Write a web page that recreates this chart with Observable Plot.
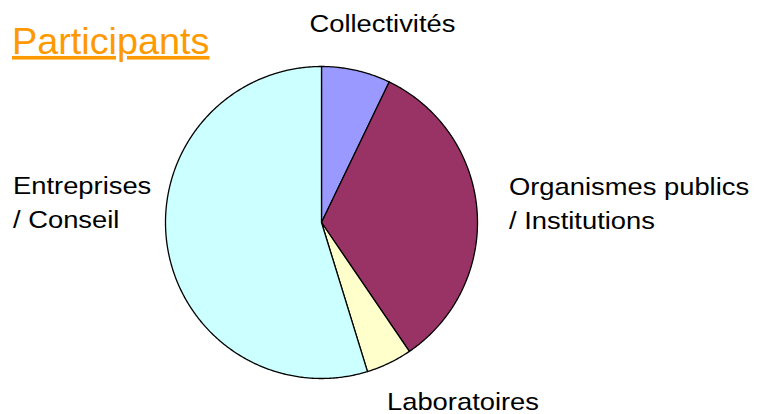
<!DOCTYPE html>
<html>
<head>
<meta charset="utf-8">
<script src="https://cdn.jsdelivr.net/npm/d3@7"></script>
<script src="https://cdn.jsdelivr.net/npm/@observablehq/plot@0.6"></script>
<style>
  html, body { margin: 0; padding: 0; background: #fff; }
  #chart svg { display: block; }
</style>
</head>
<body>
<div id="chart"></div>
<script>
// ---- data ----
const title = "Participants";
const categories = ["Collectivités", "Organismes publics\n/ Institutions", "Laboratoires", "Entreprises\n/ Conseil"];
const values = [3, 14, 2, 23];
const sliceColors = ["#9999FF", "#993366", "#FFFFCC", "#CCFFFF"];

// ---- layout ----
const W = 763, H = 414;
const cx = 321, cy = 222, R = 156;
const labelPos = [
  {x: 309, y: 31},
  {x: 508.5, y: 228},
  {x: 386.5, y: 409},
  {x: 12.5, y: 227.5}
];

const arcs = d3.pie().sort(null).value(d => d)(values);
const piePts = [];
arcs.forEach((a, i) => {
  const cat = categories[i];
  piePts.push({cat, px: cx, py: cy});
  const steps = Math.max(2, Math.ceil((a.endAngle - a.startAngle) / (Math.PI / 360)));
  for (let k = 0; k <= steps; k++) {
    const t = a.startAngle + (a.endAngle - a.startAngle) * k / steps;
    piePts.push({cat, px: cx + R * Math.sin(t), py: cy - R * Math.cos(t)});
  }
  piePts.push({cat, px: cx, py: cy});
});

const labels = categories.map((c, i) => ({text: c, x: labelPos[i].x, y: labelPos[i].y}));

const chart = Plot.plot({
  width: W,
  height: H,
  margin: 0,
  x: {domain: [0, W], range: [0, W], axis: null},
  y: {domain: [0, H], range: [0, H], axis: null},
  color: {domain: categories, range: sliceColors},
  style: {fontFamily: "'Liberation Sans', Arial, sans-serif", background: "#fff"},
  marks: [
    Plot.line(piePts, {x: "px", y: "py", z: "cat", fill: "cat", stroke: "#000", strokeWidth: 1.3, strokeLinejoin: "round", curve: "linear"}),
    Plot.text(labels, {x: "x", y: "y", text: "text", textAnchor: "start", lineAnchor: "bottom", lineHeight: 1.417, fontSize: 24, fill: "#000", className: "slice-label"}),
    Plot.text([title], {x: () => 11.5, y: () => 53.5, text: d => d, textAnchor: "start", lineAnchor: "bottom", fontSize: 36, fill: "#FF9900", className: "title-label"})
  ]
});

chart.querySelectorAll(".slice-label text").forEach(el => {
  el.setAttribute("transform", (el.getAttribute("transform") || "") + " scale(1.14,1)");
});
chart.querySelectorAll(".title-label text").forEach(el => {
  el.setAttribute("transform", (el.getAttribute("transform") || "") + " scale(1.05,1)");
  el.setAttribute("text-decoration", "underline");
});

document.getElementById("chart").appendChild(chart);
</script>
</body>
</html>
